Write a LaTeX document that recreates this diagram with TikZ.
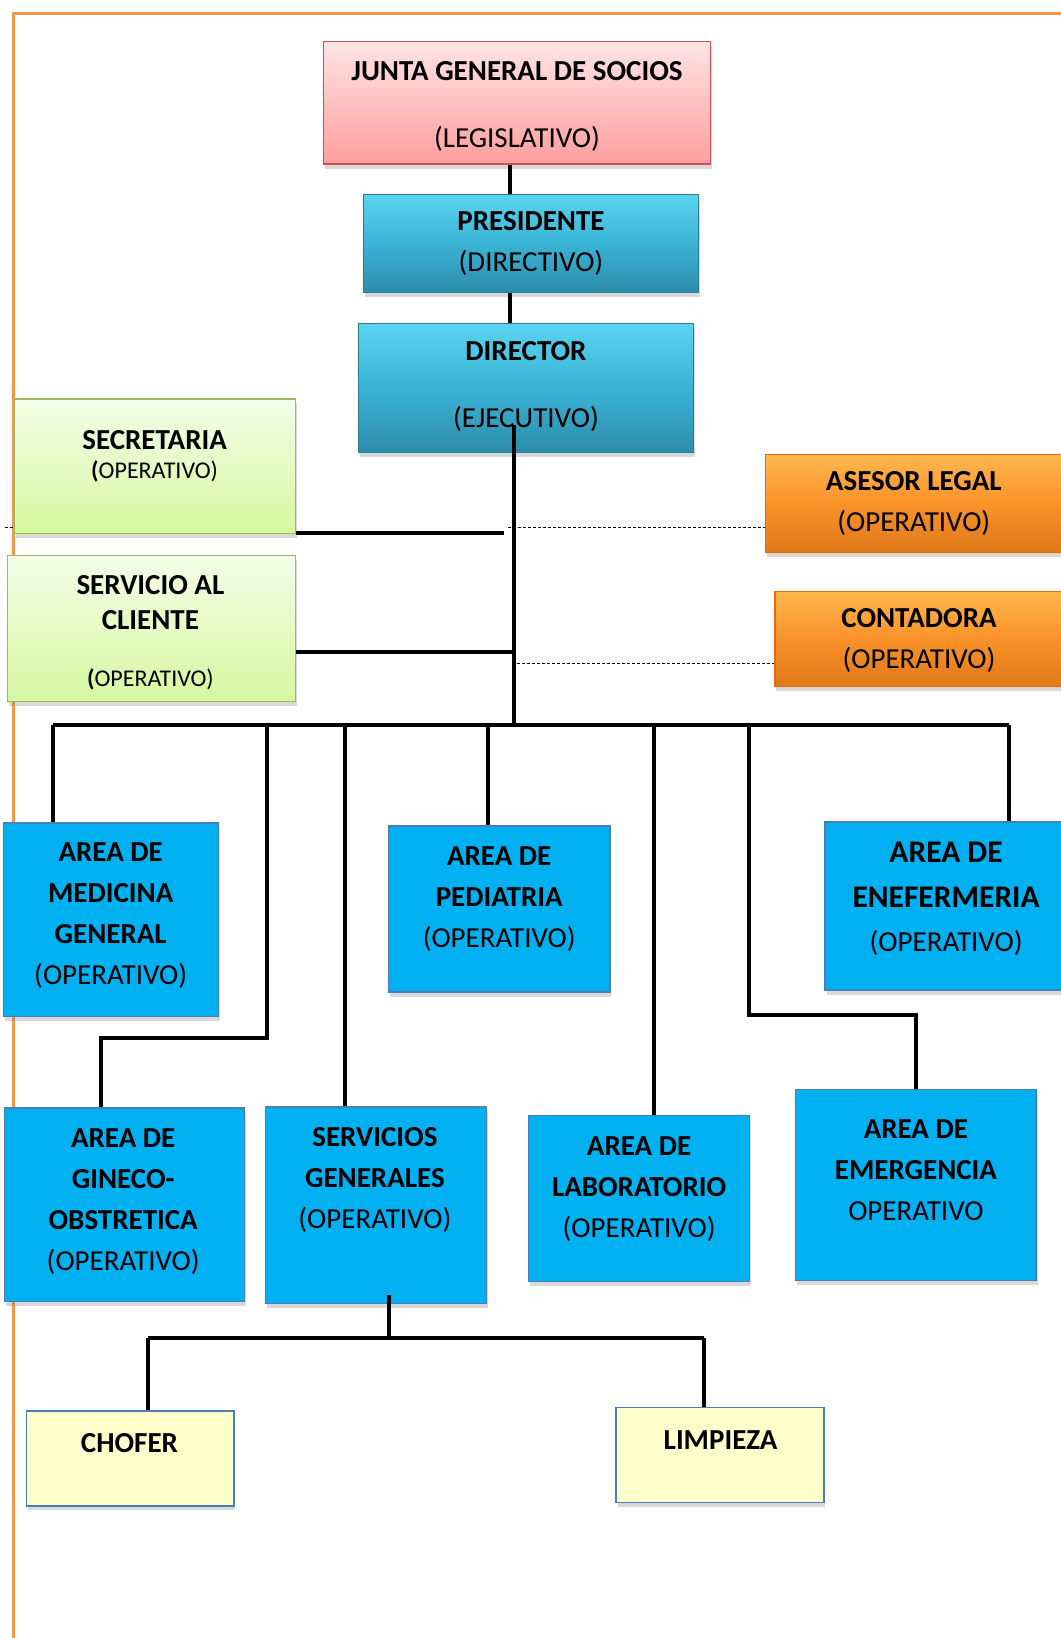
\documentclass[tikz,border=0pt]{standalone}
\usepackage{fontspec}
\setmainfont{Carlito}
\usetikzlibrary{shadows}
\definecolor{pageBorder}{HTML}{F79646}
\definecolor{juntaTop}{HTML}{FFE4E4}
\definecolor{juntaBot}{HTML}{FF9E9E}
\definecolor{juntaEdge}{HTML}{D0504D}
\definecolor{tealTop}{HTML}{5AD4EE}
\definecolor{tealMid}{HTML}{3AB4D6}
\definecolor{tealBot}{HTML}{2D8CAA}
\definecolor{tealEdge}{HTML}{2C7C94}
\definecolor{greenTop}{HTML}{F4FDE8}
\definecolor{greenBot}{HTML}{D6F8A0}
\definecolor{greenEdge}{HTML}{9BBB59}
\definecolor{orangeTop}{HTML}{FFB84E}
\definecolor{orangeMid}{HTML}{F9922A}
\definecolor{orangeBot}{HTML}{E0781A}
\definecolor{orangeEdge}{HTML}{E26B0A}
\definecolor{areaBlue}{HTML}{00B0F0}
\definecolor{areaEdge}{HTML}{4A7EBB}
\definecolor{staffYellow}{HTML}{FFFFCC}

\tikzset{
    box/.style={rectangle, inner sep=0pt, line width=1.2pt,
        drop shadow={shadow xshift=1.5pt, shadow yshift=-4.5pt, opacity=0.3}},
    pinkbox/.style={box, draw=juntaEdge, top color=juntaTop, bottom color=juntaBot},
    tealbox/.style={box, draw=tealEdge, top color=tealTop, bottom color=tealBot, middle color=tealMid},
    greenbox/.style={box, draw=greenEdge, top color=greenTop, bottom color=greenBot},
    orangebox/.style={box, draw=orangeEdge, top color=orangeTop, bottom color=orangeBot, middle color=orangeMid},
    areabox/.style={box, draw=areaEdge, fill=areaBlue},
    staffbox/.style={box, draw=areaEdge, fill=staffYellow},
    txt/.style={anchor=base, align=center, inner sep=0pt, font=\fontsize{29}{41}\selectfont},
    conn/.style={line width=4pt, black},
    dashline/.style={densely dashed, line width=0.9pt, black}
}

\begin{document}
\begin{tikzpicture}[x=1pt, y=-1pt]
    \useasboundingbox (0,0) rectangle (1060,1638);
    \draw[line width=3pt, pageBorder] (13.6,1700) -- (13.6,13.6) -- (1100,13.6);

    % Top chain - legislativo, directivo, ejecutivo
    \node[pinkbox, minimum width=386.4pt, minimum height=122.2pt] (junta) at (516.9,102.9) {};
    \node[tealbox, minimum width=335.2pt, minimum height=98.2pt] (pres) at (531,243.3) {};
    \node[tealbox, minimum width=335.2pt, minimum height=128.5pt] (director) at (525.8,388) {};
    \node[txt] (juntaTxt) at (517,147.5) {\textbf{JUNTA GENERAL DE SOCIOS}\\[26pt](LEGISLATIVO)};
    \node[txt] (presTxt) at (531,271.9) {\textbf{PRESIDENTE}\\(DIRECTIVO)};
    \node[txt] (dirTxt) at (526,427.4) {\textbf{DIRECTOR}\\[26pt](EJECUTIVO)};

    % Staff - left side (green) and right side (orange)
    \node[greenbox, minimum width=280.9pt, minimum height=134.7pt] (secretaria) at (155.1,466.3) {};
    \node[greenbox, minimum width=288.2pt, minimum height=146.2pt] (cliente) at (151.4,628.7) {};
    \node[orangebox, minimum width=296.5pt, minimum height=98.1pt] (asesor) at (913.8,503.4) {};
    \node[orangebox, minimum width=288.1pt, minimum height=95pt] (contadora) at (919,638.6) {};
    \node[txt, font=\fontsize{29}{29.5}\selectfont] (secTxt) at (154.6,478.7)
        {\textbf{SECRETARIA}\\{\fontsize{24}{29.5}\selectfont\textbf{(}OPERATIVO)}};
    \node[txt, font=\fontsize{29}{35.5}\selectfont] (cliTxt) at (150.4,686.5)
        {\textbf{SERVICIO AL}\\\textbf{CLIENTE}\\[21.2pt]{\fontsize{24}{35.5}\selectfont\textbf{(}OPERATIVO)}};
    \node[txt] (asesorTxt) at (913.8,531.9) {\textbf{ASESOR LEGAL}\\(OPERATIVO)};
    \node[txt] (contTxt) at (919,668.7) {\textbf{CONTADORA}\\(OPERATIVO)};

    % Areas - first row
    \node[areabox, minimum width=215.2pt, minimum height=193.2pt] (medicina) at (110.7,919.5) {};
    \node[areabox, minimum width=221.4pt, minimum height=166.1pt] (pediatria) at (499.2,909) {};
    \node[areabox, minimum width=242pt, minimum height=168.1pt] (enfermeria) at (946,906) {};
    \node[txt] (medTxt) at (110.7,984.6) {\textbf{AREA DE}\\\textbf{MEDICINA}\\\textbf{GENERAL}\\(OPERATIVO)};
    \node[txt] (pedTxt) at (499.2,947.8) {\textbf{AREA DE}\\\textbf{PEDIATRIA}\\(OPERATIVO)};
    \node[txt, font=\fontsize{31.5}{44.4}\selectfont] (enfTxt) at (946.1,951.5)
        {\textbf{AREA DE}\\\textbf{ENEFERMERIA}\\{\fontsize{29}{44.4}\selectfont(OPERATIVO)}};

    % Areas - second row
    \node[areabox, minimum width=240.2pt, minimum height=193.2pt] (gineco) at (124.3,1204.6) {};
    \node[areabox, minimum width=221.3pt, minimum height=196.3pt] (servicios) at (376,1205.2) {};
    \node[areabox, minimum width=221.4pt, minimum height=166.1pt] (laboratorio) at (639.1,1198.4) {};
    \node[areabox, minimum width=240.2pt, minimum height=191.1pt] (emergencia) at (915.9,1184.8) {};
    \node[txt] (ginTxt) at (123.2,1270.5) {\textbf{AREA DE}\\\textbf{GINECO-}\\\textbf{OBSTRETICA}\\(OPERATIVO)};
    \node[txt] (serTxt) at (374.9,1228.5) {\textbf{SERVICIOS}\\\textbf{GENERALES}\\(OPERATIVO)};
    \node[txt] (labTxt) at (639.1,1237.4) {\textbf{AREA DE}\\\textbf{LABORATORIO}\\(OPERATIVO)};
    \node[txt] (emeTxt) at (915.9,1220.7) {\textbf{AREA DE}\\\textbf{EMERGENCIA}\\OPERATIVO};

    % Servicios generales staff
    \node[staffbox, minimum width=207.8pt, minimum height=95pt] (chofer) at (130,1458.4) {};
    \node[staffbox, minimum width=207.9pt, minimum height=95.1pt] (limpieza) at (720,1455.2) {};
    \node[txt] (chofTxt) at (129.5,1452.7) {\textbf{CHOFER}};
    \node[txt] (limpTxt) at (720.6,1449.6) {\textbf{LIMPIEZA}};

    % Connectors
    \coordinate (spine) at (509.6,0);
    \coordinate (trunkTop) at (513.8,425);
    \coordinate (trunkBot) at (513.8,724.7);
    \coordinate (secEnd) at (503.5,532.7);
    \coordinate (cliJoin) at (513.8,651.6);
    \coordinate (stubL) at (5.2,527);
    \coordinate (asesorJoin) at (508,527);
    \coordinate (contJoin) at (517,663.1);
    \draw[conn] (spine |- junta.south) -- (spine |- pres.north);
    \draw[conn] (spine |- pres.south) -- (spine |- director.north);
    \draw[conn] (trunkTop) -- (trunkBot);
    \draw[conn] (secretaria.south east |- secEnd) -- (secEnd);
    \draw[conn] (cliente.east |- cliJoin) -- (cliJoin);
    \draw[dashline] (stubL) -- (secretaria.west |- stubL);
    \draw[dashline] (asesorJoin) -- (asesor.west |- asesorJoin);
    \draw[dashline] (contJoin) -- (contadora.west |- contJoin);

    % Bus to the areas
    \coordinate (dMed) at (53.3,724.7);
    \coordinate (dGin) at (267.3,724.7);
    \coordinate (dSer) at (344.6,724.7);
    \coordinate (dPed) at (487.7,724.7);
    \coordinate (dLab) at (653.7,724.7);
    \coordinate (dEme) at (748.8,724.7);
    \coordinate (dEnf) at (1008.8,724.7);
    \coordinate (ginBend) at (101.3,1038);
    \coordinate (emeBend) at (915.9,1015);
    \draw[conn] (dMed) -- (dEnf);
    \draw[conn] (dMed) -- (dMed |- medicina.north);
    \draw[conn] (dGin) |- (ginBend) -- (ginBend |- gineco.north);
    \draw[conn] (dSer) -- (dSer |- servicios.north);
    \draw[conn] (dPed) -- (dPed |- pediatria.north);
    \draw[conn] (dLab) -- (dLab |- laboratorio.north);
    \draw[conn] (dEme) |- (emeBend) -- (emeBend |- emergencia.north);
    \draw[conn] (dEnf) -- (dEnf |- enfermeria.north);

    % Chofer and limpieza
    \coordinate (serTop) at (388.5,1295);
    \coordinate (serJoin) at (388.5,1337.7);
    \coordinate (chofBus) at (148.3,1337.7);
    \coordinate (limpBus) at (703.9,1337.7);
    \draw[conn] (serTop) -- (serJoin);
    \draw[conn] (chofBus) -- (limpBus);
    \draw[conn] (chofBus) -- (chofBus |- chofer.north);
    \draw[conn] (limpBus) -- (limpBus |- limpieza.north);
\end{tikzpicture}
\end{document}
